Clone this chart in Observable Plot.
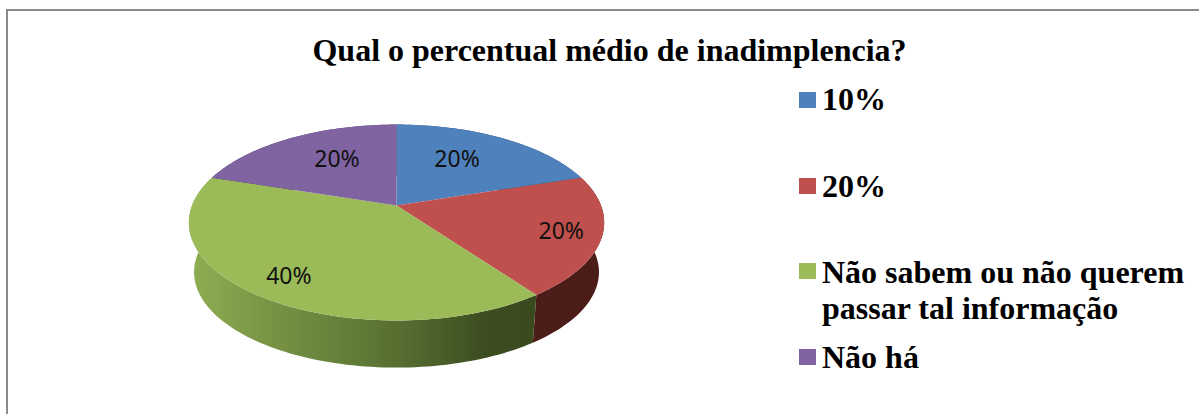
<!DOCTYPE html>
<html lang="pt">
<head>
<meta charset="utf-8">
<script src="https://cdn.jsdelivr.net/npm/d3@7"></script>
<script src="https://cdn.jsdelivr.net/npm/@observablehq/plot@0.6"></script>
<style>
  html, body { margin: 0; padding: 0; background: #fff; }
  #page { position: relative; width: 1199px; height: 414px; overflow: hidden; }
  #page svg { position: absolute; left: 0; top: 0; background: transparent; }
  #frame { position: absolute; left: 6px; top: 9px; right: -5px; bottom: -5px; border-left: 2px solid #8a8a8a; border-top: 2px solid #8a8a8a; }
  h1 { position: absolute; left: 0; width: 1219px; top: 32px; margin: 0; text-align: center; font: bold 32px/36px "Liberation Serif", serif; color: #000; }
  .row { position: absolute; left: 799px; font: bold 32px/36px "Liberation Serif", serif; color: #000; }
  .row i { position: absolute; left: 0; width: 17px; height: 16px; }
  .row span { position: absolute; left: 23px; white-space: pre; }
</style>
</head>
<body>
<div id="page"><div id="frame"></div><h1 id="title"></h1></div>
<script>
const title = "Qual o percentual médio de inadimplencia?";
const categories = ["10%", "20%", "Não sabem ou não querem\npassar tal informação", "Não há"];
const values = [20, 20, 40, 20];
const topColors = ["#4f81bd", "#c0504d", "#9bbb59", "#8064a2"];
const sideColors = ["#2f4d71", "#4c1c19", "url(#greenSide)", "#4d3c61"];

// Look of the tilted pie (perspective ellipse matching the picture)
const pie = {cx: 396, cy: 205, k: 204.5, t: 95, p: 0.1736, depth: 50, shrink: 0.975};
const labelNudge = [[-8, -2], [40, 7], [-26, 19], [9, -2]];
const legendTop = [81, 168, 254, 339];
const swatchOffset = [11, 10, 9, 10];

function project(fraction, r = 1, lower = false) {
  const a = fraction * 2 * Math.PI;
  const u = Math.sin(a) * r, v = -Math.cos(a) * r;
  const d = 1 - pie.p * v, s = lower ? pie.shrink : 1;
  return {
    x: pie.cx + s * pie.k * u / d,
    y: pie.cy + (lower ? pie.depth : 0) + s * pie.t * v / d
  };
}

const total = d3.sum(values);
const cumulative = d3.cumsum(values);
const slices = values.map((v, i) => ({
  name: categories[i],
  value: v,
  start: (cumulative[i] - v) / total,
  end: cumulative[i] / total
}));

function rim(s, lower) {
  const n = Math.ceil((s.end - s.start) * 240);
  return d3.range(n + 1).map(j => project(s.start + (s.end - s.start) * j / n, 1, lower));
}
const topFaces = slices.flatMap(s => [project(0, 0), ...rim(s, false)].map(q => ({...q, name: s.name})));
const sideFaces = slices.flatMap(s => [...rim(s, false), ...rim(s, true).reverse()].map(q => ({...q, name: s.name})));
const sideOrder = [0, 3, 1, 2];
const labels = slices.map((s, i) => {
  const q = project((s.start + s.end) / 2, 0.62);
  return {x: q.x + labelNudge[i][0], y: q.y + labelNudge[i][1], text: s.value + "%"};
});

function defs() {
  const d = d3.create("svg:defs");
  const g = d.append("linearGradient").attr("id", "greenSide");
  [[0, "#8fae52"], [0.3, "#718d41"], [0.6, "#566f31"], [0.85, "#3c4d20"], [1, "#3a4a1f"]]
    .forEach(([o, c]) => g.append("stop").attr("offset", o).attr("stop-color", c));
  return d.node();
}

const chart = Plot.plot({
  width: 1199, height: 414, margin: 0,
  x: {domain: [0, 1199], axis: null},
  y: {domain: [414, 0], axis: null},
  style: {background: "transparent"},
  marks: [
    defs,
    ...sideOrder.map(i => Plot.line(sideFaces.filter(q => q.name === categories[i]),
      {x: "x", y: "y", fill: sideColors[i], stroke: "none"})),
    Plot.line(topFaces, {x: "x", y: "y", z: "name", fill: q => topColors[categories.indexOf(q.name)], stroke: "none"}),
    Plot.text(labels, {x: "x", y: "y", text: "text", fill: "#111", fontSize: 23, fontFamily: "Noto Sans"})
  ]
});

const page = document.getElementById("page");
page.appendChild(chart);
document.getElementById("title").textContent = title;
categories.forEach((c, i) => {
  const row = document.createElement("div");
  row.className = "row";
  row.style.top = legendTop[i] + "px";
  const sw = document.createElement("i");
  sw.style.background = topColors[i];
  sw.style.top = swatchOffset[i] + "px";
  const tx = document.createElement("span");
  tx.textContent = c;
  row.append(sw, tx);
  page.appendChild(row);
});
</script>
</body>
</html>
